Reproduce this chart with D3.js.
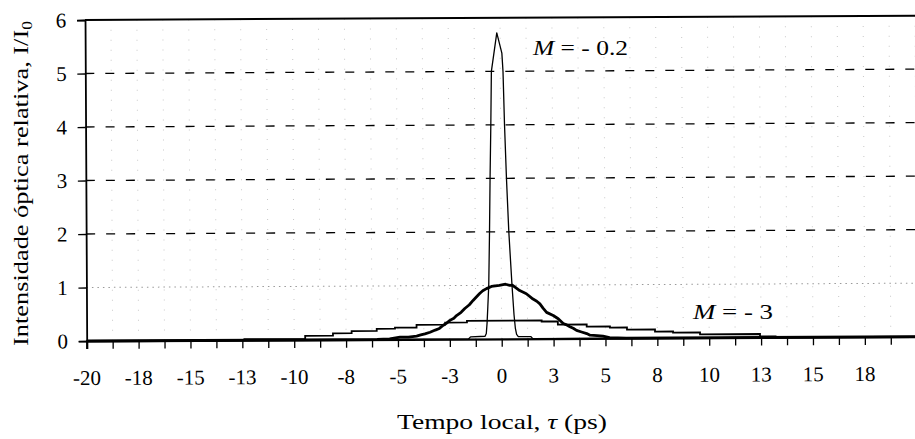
<!DOCTYPE html>
<html>
<head>
<meta charset="utf-8">
<script src="https://cdn.jsdelivr.net/npm/d3@7"></script>
<style>
  html, body { margin: 0; padding: 0; background: #fff; }
</style>
</head>
<body>
<svg id="chart" width="915" height="439"></svg>
<script>
// ---- data ----
const xTickValues = [-20, -17.5, -15, -12.5, -10, -7.5, -5, -2.5, 0, 2.5, 5, 7.5, 10, 12.5, 15, 17.5];
const xTickLabels = ["-20", "-18", "-15", "-13", "-10", "-8", "-5", "-3", "0", "3", "5", "8", "10", "13", "15", "18"];
const yTickValues = [0, 1, 2, 3, 4, 5, 6];
const dashedGrid = [2, 3, 4, 5];
const dottedGrid = [1];

// M = -0.2 (narrow spike)
const spikeX = [-20, -1.6, -1.5, -0.8, -0.74, -0.7, -0.66, -0.61, -0.56, -0.52, -0.47, -0.43, -0.16, 0.08, 0.13, 0.19, 0.27, 0.37, 0.51, 0.6, 0.66, 0.72, 0.8, 1.4, 1.5, 20];
const spikeY = [0, 0, 0.04, 0.05, 0.1, 0.3, 0.6, 1.0, 2.0, 3.0, 4.0, 5.0, 5.72, 5.34, 5.0, 4.0, 3.0, 2.0, 1.0, 0.45, 0.2, 0.08, 0.04, 0.04, 0, 0];

// intermediate pulse (thick, unlabeled)
const midX = [-20, -6, -5.4, -4.9, -4.5, -4.1, -3.9, -3.7, -3.45, -3.2, -3.0, -2.81, -2.65, -2.49, -2.3, -2.17, -1.95, -1.77, -1.55, -1.37, -1.2, -1.05, -0.9, -0.72, -0.48, -0.1, 0.2, 0.4, 0.54, 0.64, 0.88, 1.2, 1.52, 1.7, 1.85, 2.0, 2.17, 2.49, 2.73, 2.97, 3.1, 3.29, 3.45, 3.61, 3.85, 4.1, 4.26, 4.6, 4.88, 5.2, 6, 20];
const midY = [0, 0, 0.01, 0.04, 0.04, 0.06, 0.08, 0.10, 0.13, 0.17, 0.2, 0.26, 0.3, 0.35, 0.39, 0.44, 0.5, 0.57, 0.64, 0.72, 0.79, 0.85, 0.9, 0.94, 0.98, 1.0, 1.02, 1.0, 1.0, 0.97, 0.9, 0.84, 0.74, 0.7, 0.65, 0.57, 0.49, 0.43, 0.37, 0.28, 0.26, 0.22, 0.19, 0.15, 0.12, 0.09, 0.06, 0.05, 0.04, 0.01, 0, 0];

// M = -3 (wide, stepped)
const wideX = [-20, -12.4, -9.47, -8.13, -7.23, -6.02, -5.14, -4.1, -2.72, -1.67, 1.93, 2.71, 4.1, 5.22, 6.04, 7.39, 8.26, 9.56, 12.45, 13.2, 20];
const wideY = [0, 0.02, 0.075, 0.12, 0.16, 0.2, 0.22, 0.27, 0.31, 0.34, 0.32, 0.26, 0.22, 0.2, 0.16, 0.12, 0.1, 0.065, 0.02, 0, 0];

// ---- drawing ----
const FONT = "'Liberation Serif', 'Times New Roman', Times, Tinos, 'Nimbus Roman', 'Nimbus Roman No9 L', FreeSerif, 'Noto Serif', 'DejaVu Serif', serif";
const FS = 21;
const svg = d3.select("#chart");
const x = d3.scaleLinear().domain([-20, 20]).range([86.7, 916.7]);
const y = d3.scaleLinear().domain([0, 6]).range([341, 20]);

const g = svg.append("g").attr("transform", "rotate(-0.3, 87, 341)");

// vertical faint dotted grid
const minorX = d3.range(-20, 20.01, 1.25);
g.append("g").selectAll("line").data(minorX.slice(1)).join("line")
  .attr("x1", d => x(d)).attr("x2", d => x(d))
  .attr("y1", y(6)).attr("y2", y(0))
  .attr("stroke", "#c8c8c8").attr("stroke-width", 1)
  .attr("stroke-dasharray", "1,9");

// dotted horizontal grid
g.append("g").selectAll("line").data(dottedGrid).join("line")
  .attr("x1", x(-20)).attr("x2", 915)
  .attr("y1", d => y(d)).attr("y2", d => y(d))
  .attr("stroke", "#999").attr("stroke-width", 1)
  .attr("stroke-dasharray", "1.5,4");

// dashed horizontal grid
g.append("g").selectAll("line").data(dashedGrid).join("line")
  .attr("x1", x(-20)).attr("x2", 920)
  .attr("y1", d => y(d)).attr("y2", d => y(d))
  .attr("stroke", "#000").attr("stroke-width", 1.3)
  .attr("stroke-dasharray", "9,11");

// top border
g.append("line")
  .attr("x1", x(-20)).attr("x2", 920)
  .attr("y1", y(6)).attr("y2", y(6))
  .attr("stroke", "#000").attr("stroke-width", 2);

// curves
const line = d3.line().x(d => x(d[0])).y(d => y(d[1]));
const stepLine = d3.line().x(d => x(d[0])).y(d => y(d[1])).curve(d3.curveStepAfter);

g.append("path").datum(d3.zip(wideX, wideY))
  .attr("d", stepLine).attr("fill", "none").attr("stroke", "#000").attr("stroke-width", 1.8);
g.append("path").datum(d3.zip(midX, midY))
  .attr("d", line).attr("fill", "none").attr("stroke", "#000").attr("stroke-width", 2.8)
  .attr("stroke-linejoin", "round");
g.append("path").datum(d3.zip(spikeX, spikeY))
  .attr("d", line).attr("fill", "none").attr("stroke", "#000").attr("stroke-width", 1.3)
  .attr("stroke-linejoin", "round");

// x axis
const xAxis = d3.axisBottom(x).tickValues(minorX).tickSize(8).tickFormat("");
const xa = g.append("g").attr("transform", `translate(0,${y(0)})`).call(xAxis);
xa.select(".domain").attr("stroke-width", 2.2);
xa.selectAll(".tick line").attr("stroke-width", 1.3);

g.append("g").selectAll("text").data(xTickValues).join("text")
  .attr("x", d => x(d)).attr("y", 385)
  .attr("font-family", FONT)
  .attr("text-anchor", "middle").attr("font-size", FS)
  .text((d, i) => xTickLabels[i]);

// y axis
const yAxis = d3.axisLeft(y).tickValues(yTickValues).tickSize(8).tickFormat("");
const ya = g.append("g").attr("transform", `translate(${x(-20)},0)`).call(yAxis);
ya.select(".domain").attr("stroke-width", 1.8);
ya.selectAll(".tick line").attr("stroke-width", 1.3);

g.append("g").selectAll("text").data(yTickValues).join("text")
  .attr("x", 68).attr("y", d => y(d)).attr("dy", "0.35em")
  .attr("font-family", FONT)
  .attr("text-anchor", "end").attr("font-size", FS)
  .text(d => d);

// titles
const xt = svg.append("text")
  .attr("x", 502).attr("y", 429).attr("text-anchor", "middle").attr("font-size", FS)
  .attr("font-family", FONT)
  .attr("textLength", 210).attr("lengthAdjust", "spacingAndGlyphs");
xt.append("tspan").text("Tempo local, ");
xt.append("tspan").attr("font-style", "italic").text("τ");
xt.append("tspan").text("   (ps)");

const yt = svg.append("text")
  .attr("transform", "translate(28,183.5) rotate(-90)")
  .attr("text-anchor", "middle").attr("font-size", FS)
  .attr("font-family", FONT)
  .attr("textLength", 325).attr("lengthAdjust", "spacingAndGlyphs");
yt.append("tspan").text("Intensidade óptica relativa, I/I");
yt.append("tspan").attr("font-size", 14).attr("dy", 4).text("0");

// curve labels
const l1 = svg.append("text").attr("x", 533).attr("y", 55).attr("font-size", FS)
  .attr("font-family", FONT)
  .attr("textLength", 95).attr("lengthAdjust", "spacingAndGlyphs");
l1.append("tspan").attr("font-style", "italic").text("M");
l1.append("tspan").text(" = - 0.2");

const l2 = svg.append("text").attr("x", 693).attr("y", 319).attr("font-size", FS)
  .attr("font-family", FONT)
  .attr("textLength", 80).attr("lengthAdjust", "spacingAndGlyphs");
l2.append("tspan").attr("font-style", "italic").text("M");
l2.append("tspan").text(" = - 3");
</script>
</body>
</html>
